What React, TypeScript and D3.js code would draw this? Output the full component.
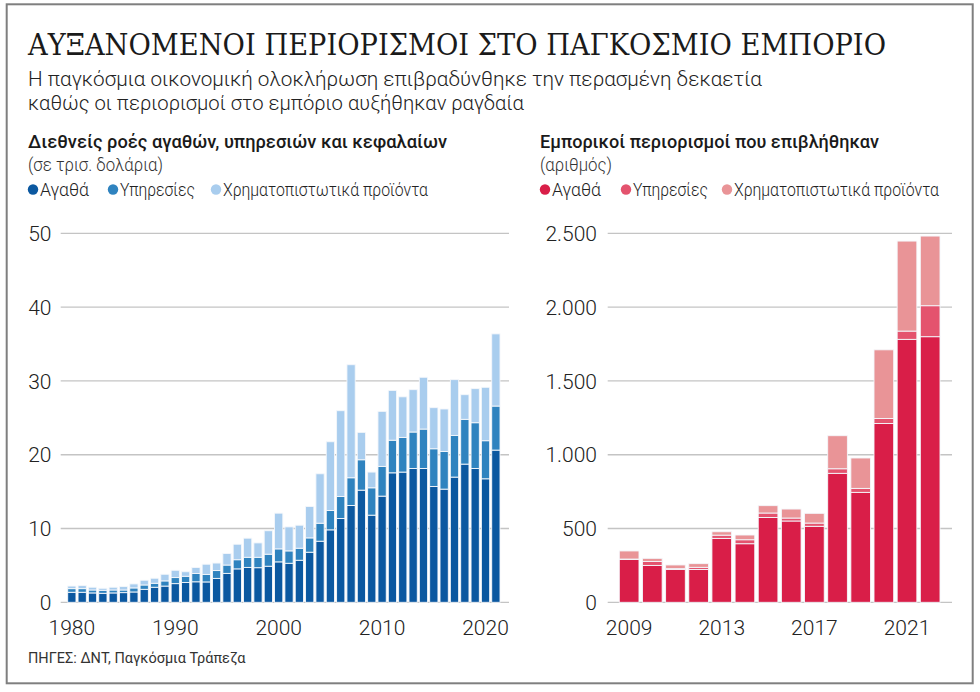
import * as d3 from "d3";

// Left panel: global flows, trillion USD
const flowYears = d3.range(1980, 2022);
const flowGoods = [
  1.36, 1.36, 1.27, 1.22, 1.27, 1.31, 1.4, 1.76, 2.04, 2.2,
  2.53, 2.69, 2.78, 2.76, 3.24, 3.92, 4.53, 4.73, 4.69, 4.89,
  5.48, 5.29, 5.7, 6.79, 8.28, 9.82, 11.36, 13.12, 15.2, 11.81,
  14.39, 17.55, 17.65, 18.14, 18.14, 15.7, 15.34, 16.97, 18.73, 18.14,
  16.74, 20.63,
];
const flowServices = [
  0.49, 0.49, 0.4, 0.41, 0.4, 0.36, 0.55, 0.59, 0.54, 0.7,
  0.82, 0.84, 1.12, 1.02, 1.06, 1.13, 1.24, 1.37, 1.41, 1.63,
  1.76, 1.68, 1.63, 1.94, 2.44, 2.62, 2.98, 3.76, 4.12, 3.71,
  4.03, 4.42, 4.7, 4.94, 5.34, 5.11, 5.11, 5.65, 6.07, 6.2,
  5.16, 5.97,
];
const flowFinancial = [
  0.35, 0.41, 0.37, 0.27, 0.37, 0.46, 0.54, 0.64, 0.68, 0.9,
  0.99, 0.61, 0.82, 1.38, 1.02, 1.57, 2.1, 2.59, 1.95, 3.18,
  4.84, 3.25, 3.12, 4.26, 6.7, 9.32, 11.63, 15.32, 3.71, 2.13,
  7.46, 6.75, 5.5, 5.74, 7.02, 5.57, 5.75, 7.56, 3.34, 4.62,
  7.24, 9.78,
];
const flowTicks = [0, 10, 20, 30, 40, 50];
const flowYearLabels = [1980, 1990, 2000, 2010, 2020];

// Right panel: trade restrictions imposed, count
const restrYears = d3.range(2009, 2023);
const restrGoods = [290, 250, 222, 222, 433, 397, 575, 551, 515, 874, 745, 1212, 1782, 1800];
const restrServices = [3, 27, 6, 15, 22, 27, 30, 20, 22, 31, 27, 34, 56, 210];
const restrFinancial = [55, 21, 25, 25, 23, 32, 50, 61, 66, 224, 206, 465, 610, 472];
const restrTicks = [0, 500, 1000, 1500, 2000, 2500];
const restrYearLabels = [2009, 2013, 2017, 2021];

const legendLabels = ["Αγαθά", "Υπηρεσίες", "Χρηματοπιστωτικά προϊόντα"];
const legendWidths = [49, 75, 205];
const BLUES = ["#0b58a0", "#2f83bf", "#a9cdee"];
const REDS = ["#d91e48", "#e4536e", "#e99497"];

const SANS = "Roboto, 'Noto Sans', sans-serif";
const greekNum = d3.formatLocale({ decimal: ",", thousands: ".", grouping: [3], currency: ["€", ""] }).format(",");

type PanelProps = {
  years: number[];
  series: number[][];
  colors: string[];
  ticks: number[];
  yearLabels: number[];
  xRange: [number, number];
  gridX: [number, number];
  labelRight: number;
  padding: number;
  fmt: (v: number) => string;
};

const Y0 = 602.3;
const Y1 = 233.4;

function StackPanel({ years, series, colors, ticks, yearLabels, xRange, gridX, labelRight, padding, fmt }: PanelProps) {
  const rows = years.map((yr, i) => ({ year: yr, a: series[0][i], b: series[1][i], c: series[2][i] }));
  const stacked = d3.stack<{ year: number; a: number; b: number; c: number }>().keys(["a", "b", "c"])(rows);
  const x = d3.scaleBand<number>().domain(years).range(xRange).paddingInner(padding).paddingOuter(0);
  const y = d3.scaleLinear().domain([0, ticks[ticks.length - 1]]).range([Y0, Y1]);

  return (
    <g>
      {ticks.map((t) => (
        <g key={t}>
          <line x1={gridX[0]} x2={gridX[1]} y1={y(t)} y2={y(t)} stroke="#c4c4c4" strokeWidth={1.3} />
          <text x={labelRight} y={y(t)} dy="0.36em" textAnchor="end" fontFamily={SANS} fontWeight={300} fontSize={21} fill="#222">
            {fmt(t)}
          </text>
        </g>
      ))}
      {stacked.map((layer, k) => (
        <g key={k} fill={colors[k]}>
          {layer.map((d) => (
            <rect
              key={d.data.year}
              x={x(d.data.year)}
              width={x.bandwidth()}
              y={y(d[1])}
              height={Math.max(0, y(d[0]) - y(d[1]))}
              stroke="#f4f7fb"
              strokeWidth={0.9}
            />
          ))}
        </g>
      ))}
      {yearLabels.map((yr) => (
        <text key={yr} x={(x(yr) ?? 0) + x.bandwidth() / 2} y={634.5} textAnchor="middle" fontFamily={SANS} fontWeight={300} fontSize={21} fill="#222">
          {yr}
        </text>
      ))}
    </g>
  );
}

function Legend({ x, colors, gaps }: { x: number; colors: string[]; gaps: number[] }) {
  return (
    <g>
      {legendLabels.map((label, i) => (
        <g key={label} transform={`translate(${x + gaps[i]},0)`}>
          <circle cx={5} cy={189.5} r={5.2} fill={colors[i]} />
          <text x={12} y={195.5} fontFamily={SANS} fontWeight={300} fontSize={18.5} fill="#222" textLength={legendWidths[i]} lengthAdjust="spacingAndGlyphs">
            {label}
          </text>
        </g>
      ))}
    </g>
  );
}

export default function App() {
  return (
    <svg width={980} height={692} style={{ position: "absolute", left: 0, top: 0, background: "#fff" }}>
      <rect x={0} y={0} width={980} height={692} fill="#fff" />
      <rect x={6.7} y={4.3} width={966} height={679} fill="none" stroke="#7f7f7f" strokeWidth={2} />

      <text x={28} y={55} fontFamily="'DejaVu Serif', serif" fontSize={30} fill="#1a1a1a" textLength={858} lengthAdjust="spacingAndGlyphs">
        ΑΥΞΑΝΟΜΕΝΟΙ ΠΕΡΙΟΡΙΣΜΟΙ ΣΤΟ ΠΑΓΚΟΣΜΙΟ ΕΜΠΟΡΙΟ
      </text>
      <text x={28} y={86} fontFamily={SANS} fontWeight={300} fontSize={21} fill="#222" textLength={734} lengthAdjust="spacingAndGlyphs">
        Η παγκόσμια οικονομική ολοκλήρωση επιβραδύνθηκε την περασμένη δεκαετία
      </text>
      <text x={28} y={110} fontFamily={SANS} fontWeight={300} fontSize={21} fill="#222" textLength={496} lengthAdjust="spacingAndGlyphs">
        καθώς οι περιορισμοί στο εμπόριο αυξήθηκαν ραγδαία
      </text>

      <text x={28} y={148} fontFamily={SANS} fontWeight={500} fontSize={18.5} fill="#1a1a1a" textLength={419} lengthAdjust="spacingAndGlyphs">
        Διεθνείς ροές αγαθών, υπηρεσιών και κεφαλαίων
      </text>
      <text x={28} y={171} fontFamily={SANS} fontWeight={300} fontSize={18} fill="#333" textLength={135} lengthAdjust="spacingAndGlyphs">
        (σε τρισ. δολάρια)
      </text>
      <Legend x={28} colors={BLUES} gaps={[0, 80, 183]} />

      <text x={540} y={148} fontFamily={SANS} fontWeight={500} fontSize={18.5} fill="#1a1a1a" textLength={339} lengthAdjust="spacingAndGlyphs">
        Εμπορικοί περιορισμοί που επιβλήθηκαν
      </text>
      <text x={540} y={171} fontFamily={SANS} fontWeight={300} fontSize={18} fill="#333" textLength={72} lengthAdjust="spacingAndGlyphs">
        (αριθμός)
      </text>
      <Legend x={540} colors={REDS} gaps={[0, 81, 182]} />

      <StackPanel
        years={flowYears}
        series={[flowGoods, flowServices, flowFinancial]}
        colors={BLUES}
        ticks={flowTicks}
        yearLabels={flowYearLabels}
        xRange={[67.7, 500]}
        gridX={[60.7, 509]}
        labelRight={51.5}
        padding={0.2}
        fmt={(v) => String(v)}
      />
      <StackPanel
        years={restrYears}
        series={[restrGoods, restrServices, restrFinancial]}
        colors={REDS}
        ticks={restrTicks}
        yearLabels={restrYearLabels}
        xRange={[619.3, 940]}
        gridX={[607.7, 952]}
        labelRight={597}
        padding={0.15}
        fmt={greekNum}
      />

      <text x={28} y={663} fontFamily={SANS} fontSize={14.5} fill="#333">
        ΠΗΓΕΣ: ΔΝΤ, Παγκόσμια Τράπεζα
      </text>
    </svg>
  );
}
